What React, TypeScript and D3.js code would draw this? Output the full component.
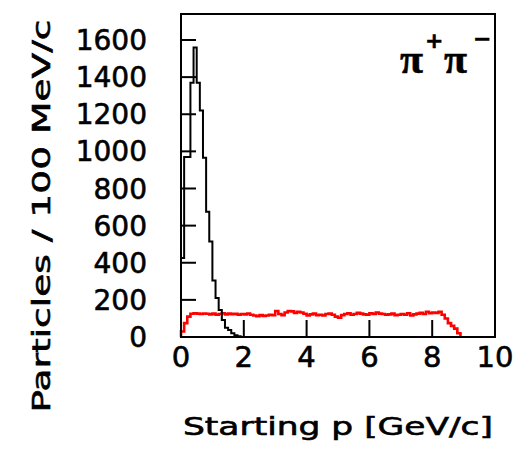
import React from "react";
import * as d3 from "d3";

const binWidth = 0.1;
const blackValues = [425, 970, 970, 1370, 1560, 1370, 1220, 965, 675, 515, 305, 210, 145, 92, 50, 38, 20, 10, 4, 0];
const redValues = [
  30, 75, 110, 125, 128, 126, 124, 127, 125, 122,
  126, 120, 124, 128, 122, 126, 123, 125, 120, 124,
  122, 127, 120, 116, 112, 118, 114, 116, 120, 117,
  140, 124, 118, 132, 140, 138, 130, 136, 132, 125,
  116, 122, 126, 118, 120, 116, 124, 126, 120, 110,
  104, 118, 124, 128, 120, 124, 130, 126, 122, 120,
  128, 124, 132, 126, 124, 120, 122, 126, 118, 120,
  124, 120, 128, 116, 122, 126, 130, 124, 136, 128,
  132, 130, 136, 120, 100, 75, 60, 45, 20,
];
const xTicks = [0, 2, 4, 6, 8, 10];
const yTicks = [0, 200, 400, 600, 800, 1000, 1200, 1400, 1600];
const xDomain = [0, 10];
const yDomain = [0, 1740];
const xTitle = "Starting p [GeV/c]";
const yTitle = "Particles / 100 MeV/c";

const W = 514;
const H = 451;
const L = 181, R = 495, T = 14, B = 337;

export default function App() {
  const x = d3.scaleLinear().domain(xDomain).range([L, R]);
  const y = d3.scaleLinear().domain(yDomain).range([B, T]);

  const stepPath = (vals: number[]) => {
    const pts: [number, number][] = [[0, 0]];
    vals.forEach((v, i) => pts.push([i * binWidth, v]));
    pts.push([vals.length * binWidth, vals[vals.length - 1]]);
    pts.push([vals.length * binWidth, 0]);
    const line = d3
      .line<[number, number]>()
      .x((d) => x(d[0]))
      .y((d) => y(d[1]))
      .curve(d3.curveStepAfter);
    return line(pts) || "";
  };

  const font = "DejaVu Sans, Verdana, sans-serif";
  const textStroke = { stroke: "#000", strokeWidth: 0.6 };

  return (
    <svg width={W} height={H} style={{ position: "absolute", left: 0, top: 0, background: "#fff" }}>
      <rect x={0} y={0} width={W} height={H} fill="#fff" />
      <path d={stepPath(redValues)} fill="none" stroke="#ff0000" strokeWidth={2.6} strokeLinejoin="miter" />
      <path d={stepPath(blackValues)} fill="none" stroke="#000" strokeWidth={2} strokeLinejoin="miter" />
      {/* frame */}
      <rect x={L} y={T} width={R - L} height={B - T} fill="none" stroke="#000" strokeWidth={2} />
      {/* y ticks */}
      {yTicks.map((t) => (
        <g key={"y" + t}>
          {t > 0 && <line x1={L} x2={L + 15} y1={y(t)} y2={y(t)} stroke="#000" strokeWidth={2} />}
          <text x={147} y={y(t)} dy="0.36em" textAnchor="end" fontFamily={font} fontSize={28} fill="#000" {...textStroke}>
            {t}
          </text>
        </g>
      ))}
      {/* x ticks */}
      {xTicks.map((t) => (
        <g key={"x" + t}>
          {t > 0 && t < 10 && <line x1={x(t)} x2={x(t)} y1={B} y2={B - 17} stroke="#000" strokeWidth={2} />}
          <text x={x(t)} y={367} textAnchor="middle" fontFamily={font} fontSize={29} fill="#000" {...textStroke}>
            {t}
          </text>
        </g>
      ))}
      <text
        x={183}
        y={435}
        fontFamily={font}
        fontSize={25}
        textLength={310}
        lengthAdjust="spacingAndGlyphs"
        fill="#000"
        {...textStroke}
      >
        {xTitle}
      </text>
      <text
        transform={`translate(50, 216) rotate(-90)`}
        textAnchor="middle"
        fontFamily={font}
        fontSize={25}
        textLength={393}
        lengthAdjust="spacingAndGlyphs"
        fill="#000"
        {...textStroke}
      >
        {yTitle}
      </text>
      {/* pi+ pi- label */}
      <g fontFamily="Liberation Serif, DejaVu Serif, serif" fontWeight="bold" fill="#000" stroke="#000" strokeWidth={0.5}>
        <text x={400} y={73} fontSize={42}>π</text>
        <text x={425} y={48} fontSize={22} fontFamily={font}>+</text>
        <text x={444} y={73} fontSize={42}>π</text>
        <text x={473} y={46} fontSize={22} fontFamily={font}>−</text>
      </g>
    </svg>
  );
}
